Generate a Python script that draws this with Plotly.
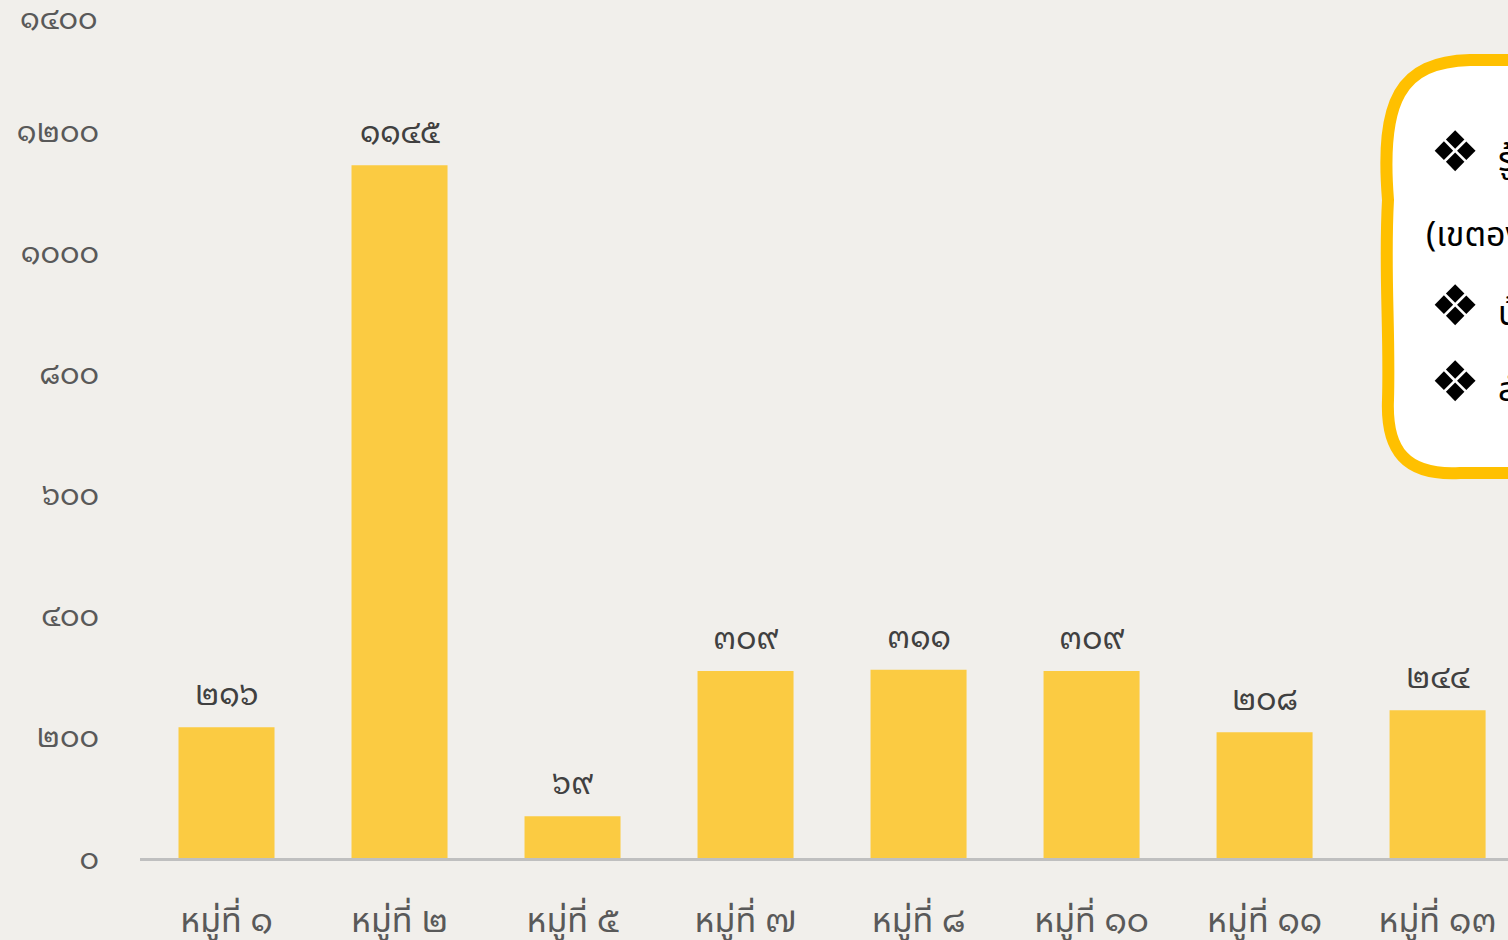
import plotly.graph_objects as go

categories = ["หมู่ที่ ๑", "หมู่ที่ ๒", "หมู่ที่ ๕", "หมู่ที่ ๗", "หมู่ที่ ๘", "หมู่ที่ ๑๐", "หมู่ที่ ๑๑", "หมู่ที่ ๑๓"]
values = [216, 1145, 69, 309, 311, 309, 208, 244]
y_ticks = [0, 200, 400, 600, 800, 1000, 1200, 1400]

box_bullets = [True, False, True, True]
box_lines = [
    "รู้จักข้อมูลประชากร",
    "(เขตองค์การบริหารส่วนตำบล)",
    "บ้าน",
    "ลำดับ",
]

THAI = str.maketrans("0123456789", "๐๑๒๓๔๕๖๗๘๙")


def thai(n):
    return str(n).translate(THAI)


W, H = 1508, 940
ML, MR, MT, MB = 140, 0, 0, 82
PW, PH = W - ML - MR, H - MT - MB
FONT = "Noto Sans Thai, sans-serif"
DIG = "Noto Sans Thai Looped, Noto Sans Thai, sans-serif"


def px(x):
    return (x - ML) / PW


def py(y):
    return (H - MB - y) / PH


def xlabel(c):
    word, num = c.split(" ")
    return f"{word} <span style='font-family:Noto Sans Thai Looped'>{num}</span>"


fig = go.Figure()
fig.add_trace(go.Bar(
    x=list(range(len(categories))),
    y=values,
    marker=dict(color="#FBCB42", line=dict(width=0)),
    width=0.555,
    hoverinfo="skip",
))

annotations = []
for i, v in enumerate(values):
    annotations.append(dict(
        x=i, y=v, xref="x", yref="y", text=thai(v), showarrow=False,
        yanchor="bottom", yshift=9,
        font=dict(family=DIG, size=31, color="#404040"),
    ))

# top tick label (plotly hides it at the figure's top edge), drawn at its value
top_tick = y_ticks[-1]
annotations.append(dict(
    x=px(99), y=top_tick, xref="paper", yref="y", text=thai(top_tick), showarrow=False,
    xanchor="right", yanchor="middle", yshift=-5,
    font=dict(family=DIG, size=30, color="#595959"),
))

path = (
    f"M {px(1388)},{py(200)} "
    f"C {px(1380)},{py(100)} {px(1400)},{py(62)} {px(1470)},{py(60)} "
    f"L {px(1560)},{py(60)} L {px(1560)},{py(473)} "
    f"L {px(1460)},{py(473)} "
    f"C {px(1405)},{py(476)} {px(1386)},{py(450)} {px(1388)},{py(400)} "
    f"C {px(1390)},{py(330)} {px(1384)},{py(270)} {px(1388)},{py(200)} Z"
)
shapes = [dict(
    type="path", xref="paper", yref="paper", path=path,
    fillcolor="#FFFFFF", line=dict(color="#FFC000", width=12), layer="above",
)]

line_y = [152, 235, 306, 382]
for bullet, txt, yy in zip(box_bullets, box_lines, line_y):
    if bullet:
        t = f"<span style='font-family:DejaVu Sans;font-size:56px'>❖</span>  {txt}"
        x0 = 1428
    else:
        t = txt
        x0 = 1424
    annotations.append(dict(
        x=px(x0), y=py(yy), xref="paper", yref="paper", text=t,
        showarrow=False, xanchor="left", yanchor="middle",
        font=dict(family=FONT, size=34, color="#000000"),
    ))

fig.update_layout(
    width=W, height=H,
    margin=dict(l=ML, r=MR, t=MT, b=MB, pad=0, autoexpand=False),
    paper_bgcolor="#F1EFEB",
    plot_bgcolor="rgba(0,0,0,0)",
    showlegend=False,
    bargap=0.445,
    xaxis=dict(
        tickmode="array", tickvals=list(range(len(categories))),
        ticktext=[xlabel(c) for c in categories],
        range=[-0.5, 7.407], showgrid=False, zeroline=False,
        showline=True, linecolor="#BFBFBF", linewidth=3,
        ticks="", ticklabelstandoff=30, automargin=False,
        tickfont=dict(family=FONT, size=34, color="#595959"),
        fixedrange=True,
    ),
    yaxis=dict(
        tickmode="array", tickvals=y_ticks[:-1], ticktext=[thai(t) for t in y_ticks[:-1]],
        range=[0, 1418], showgrid=False, zeroline=False, showline=False,
        ticks="", ticklabelstandoff=40, automargin=False,
        tickfont=dict(family=DIG, size=30, color="#595959"),
        fixedrange=True,
    ),
    annotations=annotations,
    shapes=shapes,
)

fig.write_html("out.html", post_script="document.body.style.margin='0';",
               config={"displayModeBar": False})
